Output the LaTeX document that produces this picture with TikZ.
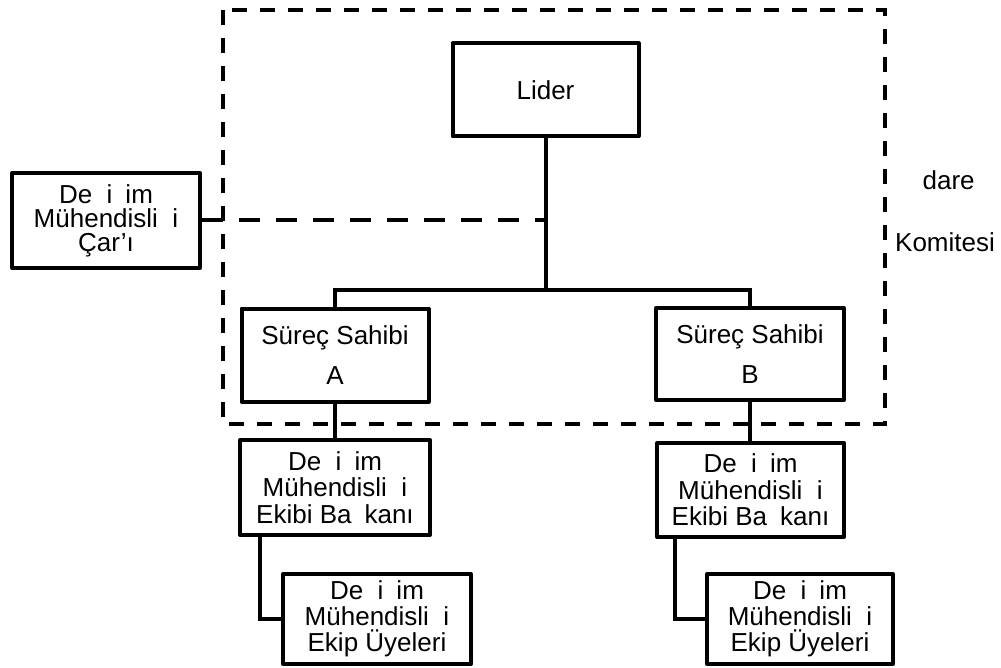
\documentclass[tikz,border=0pt]{standalone}
\usepackage{fontspec}
\setmainfont{Liberation Sans}
% widths left open where a glyph is absent from the printed label
\newcommand{\gapG}{\hspace{0.556em}}
\newcommand{\gapS}{\hspace{0.5em}}
\newcommand{\gapI}{\hspace*{0.278em}}
\begin{document}
\begin{tikzpicture}[x=1pt,y=-1pt,
  box/.style={draw, line width=4pt, line join=round, rectangle, inner sep=0pt,
    align=center, font=\fontsize{26pt}{#1}\selectfont},
  box/.default=26.5pt,
  link/.style={line width=4pt},
  committee/.style={line width=4pt, dash pattern=on 15pt off 13pt},
  advisory/.style={line width=4pt, dash pattern=on 21pt off 16pt},
  label/.style={inner sep=0pt, font=\fontsize{26pt}{30pt}\selectfont}]
\useasboundingbox (0,0) rectangle (1001,668);

% committee boundary
\draw[committee] (223,10) rectangle (885,424);

% boxes
\node[box, minimum width=186pt, minimum height=93pt] (lider) at (545.5,90) {Lider};
\node[box=24pt, minimum width=188pt, minimum height=95pt] (car) at (106,220.5)
  {De\gapG i\gapS im\\ Mühendisli\gapG i\\ Çar’ı};
\node[box=40pt, minimum width=187pt, minimum height=93pt] (sA) at (335,355) {Süreç Sahibi\\ A};
\node[box=40pt, minimum width=188pt, minimum height=92pt] (sB) at (750,354) {Süreç Sahibi\\ B};
\node[box, minimum width=190pt, minimum height=95pt] (eA) at (335,487.5)
  {De\gapG i\gapS im\\ Mühendisli\gapG i\\ Ekibi Ba\gapS kanı};
\node[box, minimum width=187pt, minimum height=94pt] (eB) at (750.5,490)
  {De\gapG i\gapS im\\ Mühendisli\gapG i\\ Ekibi Ba\gapS kanı};
\node[box=26pt, minimum width=188pt, minimum height=90pt] (kA) at (377,619)
  {De\gapG i\gapS im\\ Mühendisli\gapG i\\ Ekip Üyeleri};
\node[box=26pt, minimum width=186pt, minimum height=90pt] (kB) at (800,619)
  {De\gapG i\gapS im\\ Mühendisli\gapG i\\ Ekip Üyeleri};

% committee title
\node[label] (idareA) at (945,180) {\gapI dare};
\node[label] (idareB) at (945,242) {Komitesi};

% connectors
\coordinate (bus) at (545.5,290);
\draw[link] (lider.south) -- (bus);
\draw[link] (sA.north) |- (bus) -| (sB.north);
\draw[advisory] (car.east) -- (car.east -| lider.south);
\draw[link] (sA.south) -- (eA.north);
\draw[link] (sB.south) -- (sB.south |- eB.north);
\draw[link] ([xshift=22pt]eA.south west) |- (kA.west);
\draw[link] ([xshift=20pt]eB.south west) |- (kB.west);
\end{tikzpicture}
\end{document}
